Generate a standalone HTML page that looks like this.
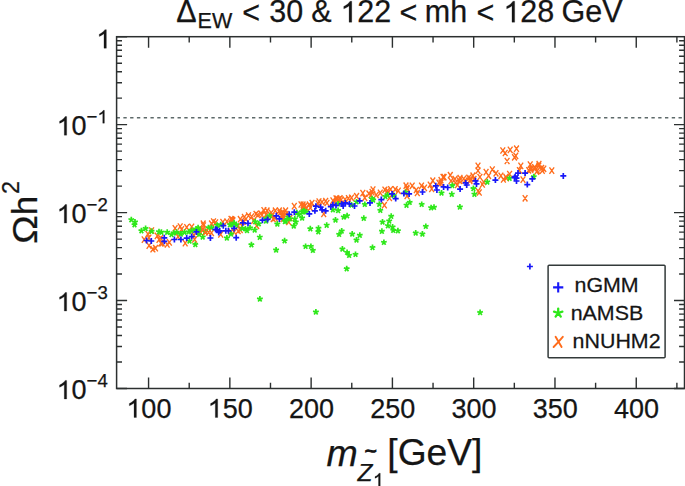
<!DOCTYPE html>
<html><head><meta charset="utf-8"><style>
html,body{margin:0;padding:0;background:#fff;}
body{width:685px;height:486px;overflow:hidden;position:relative;font-family:"Liberation Sans",sans-serif;}
svg{position:absolute;left:0;top:0;}
text{font-family:"Liberation Sans",sans-serif;fill:#151515;stroke:#151515;stroke-width:0.25px;}
</style></head><body>
<svg width="685" height="486" viewBox="0 0 685 486">
<line x1="116.6" y1="117.69" x2="684.5" y2="117.69" stroke="#5e6a6a" stroke-width="1.4" stroke-dasharray="3.35 3.42"/>
<path d="M145.55 230.80L150.25 237.20M150.25 230.80L145.55 237.20M141.85 236.40L146.55 242.80M146.55 236.40L141.85 242.80M146.55 234.60L151.25 241.00M151.25 234.60L146.55 241.00M146.65 242.40L151.35 248.80M151.35 242.40L146.65 248.80M150.55 246.00L155.25 252.40M155.25 246.00L150.55 252.40M153.15 245.00L157.85 251.40M157.85 245.00L153.15 251.40M154.85 232.70L159.55 239.10M159.55 232.70L154.85 239.10M156.65 236.40L161.35 242.80M161.35 236.40L156.65 242.80M158.55 240.10L163.25 246.50M163.25 240.10L158.55 246.50M149.25 227.30L153.95 233.70M153.95 227.30L149.25 233.70M177.85 223.30L182.55 229.70M182.55 223.30L177.85 229.70M172.75 225.10L177.45 231.50M177.45 225.10L172.75 231.50M184.35 224.10L189.05 230.50M189.05 224.10L184.35 230.50M189.35 223.70L194.05 230.10M194.05 223.70L189.35 230.10M179.25 226.20L183.95 232.60M183.95 226.20L179.25 232.60M175.65 233.40L180.35 239.80M180.35 233.40L175.65 239.80M164.85 241.30L169.55 247.70M169.55 241.30L164.85 247.70M167.05 239.20L171.75 245.60M171.75 239.20L167.05 245.60M182.85 239.90L187.55 246.30M187.55 239.90L182.85 246.30M158.35 234.90L163.05 241.30M163.05 234.90L158.35 241.30M159.85 239.90L164.55 246.30M164.55 239.90L159.85 246.30M192.25 236.30L196.95 242.70M196.95 236.30L192.25 242.70M191.55 232.00L196.25 238.40M196.25 232.00L191.55 238.40M200.85 220.50L205.55 226.90M205.55 220.50L200.85 226.90M199.85 226.60L204.55 233.00M204.55 226.60L199.85 233.00M202.95 228.70L207.65 235.10M207.65 228.70L202.95 235.10M211.15 218.40L215.85 224.80M215.85 218.40L211.15 224.80M213.25 219.40L217.95 225.80M217.95 219.40L213.25 225.80M209.15 220.50L213.85 226.90M213.85 220.50L209.15 226.90M220.45 218.90L225.15 225.30M225.15 218.90L220.45 225.30M224.55 218.40L229.25 224.80M229.25 218.40L224.55 224.80M228.65 215.80L233.35 222.20M233.35 215.80L228.65 222.20M230.65 217.40L235.35 223.80M235.35 217.40L230.65 223.80M209.15 229.70L213.85 236.10M213.85 229.70L209.15 236.10M218.35 231.20L223.05 237.60M223.05 231.20L218.35 237.60M228.65 228.70L233.35 235.10M233.35 228.70L228.65 235.10M196.75 228.70L201.45 235.10M201.45 228.70L196.75 235.10M229.75 216.50L234.45 222.90M234.45 216.50L229.75 222.90M235.85 222.60L240.55 229.00M240.55 222.60L235.85 229.00M237.95 216.00L242.65 222.40M242.65 216.00L237.95 222.40M242.05 213.90L246.75 220.30M246.75 213.90L242.05 220.30M246.15 212.40L250.85 218.80M250.85 212.40L246.15 218.80M249.25 213.40L253.95 219.80M253.95 213.40L249.25 219.80M251.35 217.50L256.05 223.90M256.05 217.50L251.35 223.90M255.45 211.80L260.15 218.20M260.15 211.80L255.45 218.20M258.45 210.30L263.15 216.70M263.15 210.30L258.45 216.70M261.55 207.20L266.25 213.60M266.25 207.20L261.55 213.60M237.95 226.80L242.65 233.20M242.65 226.80L237.95 233.20M235.85 227.80L240.55 234.20M240.55 227.80L235.85 234.20M231.75 228.80L236.45 235.20M236.45 228.80L231.75 235.20M254.35 222.60L259.05 229.00M259.05 222.60L254.35 229.00M264.75 207.50L269.45 213.90M269.45 207.50L264.75 213.90M268.85 209.60L273.55 216.00M273.55 209.60L268.85 216.00M272.95 207.50L277.65 213.90M277.65 207.50L272.95 213.90M277.05 207.50L281.75 213.90M281.75 207.50L277.05 213.90M280.15 209.00L284.85 215.40M284.85 209.00L280.15 215.40M283.25 207.50L287.95 213.90M287.95 207.50L283.25 213.90M291.95 202.90L296.65 209.30M296.65 202.90L291.95 209.30M298.65 201.30L303.35 207.70M303.35 201.30L298.65 207.70M300.65 203.40L305.35 209.80M305.35 203.40L300.65 209.80M270.85 215.70L275.55 222.10M275.55 215.70L270.85 222.10M279.15 212.60L283.85 219.00M283.85 212.60L279.15 219.00M286.35 218.80L291.05 225.20M291.05 218.80L286.35 225.20M263.65 211.60L268.35 218.00M268.35 211.60L263.65 218.00M300.75 201.50L305.45 207.90M305.45 201.50L300.75 207.90M306.95 201.50L311.65 207.90M311.65 201.50L306.95 207.90M307.95 204.60L312.65 211.00M312.65 204.60L307.95 211.00M316.65 198.40L321.35 204.80M321.35 198.40L316.65 204.80M323.35 197.90L328.05 204.30M328.05 197.90L323.35 204.30M321.35 210.70L326.05 217.10M326.05 210.70L321.35 217.10M330.55 197.40L335.25 203.80M335.25 197.40L330.55 203.80M333.65 195.30L338.35 201.70M338.35 195.30L333.65 201.70M336.25 196.30L340.95 202.70M340.95 196.30L336.25 202.70M303.85 204.60L308.55 211.00M308.55 204.60L303.85 211.00M334.75 195.60L339.45 202.00M339.45 195.60L334.75 202.00M337.75 195.10L342.45 201.50M342.45 195.10L337.75 201.50M346.05 195.10L350.75 201.50M350.75 195.10L346.05 201.50M349.15 194.60L353.85 201.00M353.85 194.60L349.15 201.00M354.25 193.00L358.95 199.40M358.95 193.00L354.25 199.40M360.45 189.90L365.15 196.30M365.15 189.90L360.45 196.30M362.45 194.60L367.15 201.00M367.15 194.60L362.45 201.00M366.55 190.50L371.25 196.90M371.25 190.50L366.55 196.90M370.65 186.30L375.35 192.70M375.35 186.30L370.65 192.70M369.65 188.90L374.35 195.30M374.35 188.90L369.65 195.30M373.85 191.80L378.55 198.20M378.55 191.80L373.85 198.20M377.95 189.70L382.65 196.10M382.65 189.70L377.95 196.10M382.55 186.60L387.25 193.00M387.25 186.60L382.55 193.00M385.15 187.60L389.85 194.00M389.85 187.60L385.15 194.00M388.25 186.10L392.95 192.50M392.95 186.10L388.25 192.50M392.85 186.10L397.55 192.50M397.55 186.10L392.85 192.50M395.95 187.60L400.65 194.00M400.65 187.60L395.95 194.00M382.05 202.00L386.75 208.40M386.75 202.00L382.05 208.40M387.15 194.80L391.85 201.20M391.85 194.80L387.15 201.20M403.65 182.50L408.35 188.90M408.35 182.50L403.65 188.90M404.65 184.60L409.35 191.00M409.35 184.60L404.65 191.00M404.65 192.80L409.35 199.20M409.35 192.80L404.65 199.20M368.65 191.80L373.35 198.20M373.35 191.80L368.65 198.20M409.85 182.60L414.55 189.00M414.55 182.60L409.85 189.00M404.75 185.70L409.45 192.10M409.45 185.70L404.75 192.10M413.95 186.80L418.65 193.20M418.65 186.80L413.95 193.20M414.95 189.80L419.65 196.20M419.65 189.80L414.95 196.20M419.15 182.60L423.85 189.00M423.85 182.60L419.15 189.00M422.15 184.70L426.85 191.10M426.85 184.70L422.15 191.10M427.85 181.60L432.55 188.00M432.55 181.60L427.85 188.00M430.45 177.50L435.15 183.90M435.15 177.50L430.45 183.90M429.35 185.70L434.05 192.10M434.05 185.70L429.35 192.10M436.55 179.60L441.25 186.00M441.25 179.60L436.55 186.00M440.65 173.90L445.35 180.30M445.35 173.90L440.65 180.30M438.65 177.00L443.35 183.40M443.35 177.00L438.65 183.40M441.75 174.00L446.45 180.40M446.45 174.00L441.75 180.40M447.95 172.00L452.65 178.40M452.65 172.00L447.95 178.40M453.05 179.70L457.75 186.10M457.75 179.70L453.05 186.10M455.15 181.80L459.85 188.20M459.85 181.80L455.15 188.20M457.15 177.60L461.85 184.00M461.85 177.60L457.15 184.00M461.35 175.60L466.05 182.00M466.05 175.60L461.35 182.00M466.45 174.60L471.15 181.00M471.15 174.60L466.45 181.00M468.45 175.60L473.15 182.00M473.15 175.60L468.45 182.00M470.55 172.50L475.25 178.90M475.25 172.50L470.55 178.90M475.65 162.70L480.35 169.10M480.35 162.70L475.65 169.10M475.65 167.40L480.35 173.80M480.35 167.40L475.65 173.80M475.65 187.90L480.35 194.30M480.35 187.90L475.65 194.30M438.65 179.70L443.35 186.10M443.35 179.70L438.65 186.10M477.55 173.80L482.25 180.20M482.25 173.80L477.55 180.20M481.25 178.80L485.95 185.20M485.95 178.80L481.25 185.20M483.75 168.90L488.45 175.30M488.45 168.90L483.75 175.30M486.25 172.60L490.95 179.00M490.95 172.60L486.25 179.00M489.95 166.40L494.65 172.80M494.65 166.40L489.95 172.80M493.65 170.10L498.35 176.50M498.35 170.10L493.65 176.50M498.55 172.60L503.25 179.00M503.25 172.60L498.55 179.00M501.05 176.30L505.75 182.70M505.75 176.30L501.05 182.70M503.55 173.80L508.25 180.20M508.25 173.80L503.55 180.20M507.25 170.80L511.95 177.20M511.95 170.80L507.25 177.20M476.95 189.30L481.65 195.70M481.65 189.30L476.95 195.70M500.45 147.30L505.15 153.70M505.15 147.30L500.45 153.70M502.85 149.80L507.55 156.20M507.55 149.80L502.85 156.20M507.85 146.70L512.55 153.10M512.55 146.70L507.85 153.10M504.75 157.80L509.45 164.20M509.45 157.80L504.75 164.20M512.15 154.10L516.85 160.50M516.85 154.10L512.15 160.50M480.05 181.20L484.75 187.60M484.75 181.20L480.05 187.60M514.15 145.50L518.85 151.90M518.85 145.50L514.15 151.90M513.45 152.70L518.15 159.10M518.15 152.70L513.45 159.10M518.45 162.70L523.15 169.10M523.15 162.70L518.45 169.10M517.05 167.10L521.75 173.50M521.75 167.10L517.05 173.50M527.85 161.30L532.55 167.70M532.55 161.30L527.85 167.70M529.25 164.90L533.95 171.30M533.95 164.90L529.25 171.30M532.15 164.20L536.85 170.60M536.85 164.20L532.15 170.60M536.45 162.70L541.15 169.10M541.15 162.70L536.45 169.10M539.35 164.90L544.05 171.30M544.05 164.90L539.35 171.30M541.45 165.60L546.15 172.00M546.15 165.60L541.45 172.00M526.35 167.10L531.05 173.50M531.05 167.10L526.35 173.50M534.35 168.50L539.05 174.90M539.05 168.50L534.35 174.90M520.65 176.40L525.35 182.80M525.35 176.40L520.65 182.80M522.75 195.10L527.45 201.50M527.45 195.10L522.75 201.50M504.05 175.00L508.75 181.40M508.75 175.00L504.05 181.40M536.65 160.80L541.35 167.20M541.35 160.80L536.65 167.20M539.95 167.40L544.65 173.80M544.65 167.40L539.95 173.80M535.05 167.40L539.75 173.80M539.75 167.40L535.05 173.80M549.45 167.40L554.15 173.80M554.15 167.40L549.45 173.80M528.45 166.50L533.15 172.90M533.15 166.50L528.45 172.90M532.65 165.30L537.35 171.70M537.35 165.30L532.65 171.70M240.65 218.80L245.35 225.20M245.35 218.80L240.65 225.20M243.65 215.80L248.35 222.20M248.35 215.80L243.65 222.20M253.65 210.80L258.35 217.20M258.35 210.80L253.65 217.20M259.65 211.80L264.35 218.20M264.35 211.80L259.65 218.20M269.65 212.80L274.35 219.20M274.35 212.80L269.65 219.20M272.65 214.80L277.35 221.20M277.35 214.80L272.65 221.20M277.65 209.80L282.35 216.20M282.35 209.80L277.65 216.20M280.65 212.80L285.35 219.20M285.35 212.80L280.65 219.20M283.65 210.80L288.35 217.20M288.35 210.80L283.65 217.20M280.65 215.80L285.35 222.20M285.35 215.80L280.65 222.20M287.65 214.80L292.35 221.20M292.35 214.80L287.65 221.20M239.65 222.80L244.35 229.20M244.35 222.80L239.65 229.20M452.65 175.80L457.35 182.20M457.35 175.80L452.65 182.20M457.65 174.80L462.35 181.20M462.35 174.80L457.65 181.20M462.65 177.30L467.35 183.70M467.35 177.30L462.65 183.70M467.65 177.80L472.35 184.20M472.35 177.80L467.65 184.20M471.65 175.80L476.35 182.20M476.35 175.80L471.65 182.20M448.65 177.80L453.35 184.20M453.35 177.80L448.65 184.20M302.65 202.80L307.35 209.20M307.35 202.80L302.65 209.20M309.65 199.80L314.35 206.20M314.35 199.80L309.65 206.20M315.65 200.30L320.35 206.70M320.35 200.30L315.65 206.70M319.65 198.80L324.35 205.20M324.35 198.80L319.65 205.20M324.65 199.80L329.35 206.20M329.35 199.80L324.65 206.20M338.65 196.80L343.35 203.20M343.35 196.80L338.65 203.20M342.65 196.30L347.35 202.70M347.35 196.30L342.65 202.70" stroke="#ff6c1c" stroke-width="1.35" fill="none"/>
<path d="M131.30 219.70L131.30 216.70M131.30 219.70L134.15 218.77M131.30 219.70L133.06 222.13M131.30 219.70L129.54 222.13M131.30 219.70L128.45 218.77M135.00 222.00L135.00 219.00M135.00 222.00L137.85 221.07M135.00 222.00L136.76 224.43M135.00 222.00L133.24 224.43M135.00 222.00L132.15 221.07M134.50 224.80L134.50 221.80M134.50 224.80L137.35 223.87M134.50 224.80L136.26 227.23M134.50 224.80L132.74 227.23M134.50 224.80L131.65 223.87M141.40 230.80L141.40 227.80M141.40 230.80L144.25 229.87M141.40 230.80L143.16 233.23M141.40 230.80L139.64 233.23M141.40 230.80L138.55 229.87M145.60 228.50L145.60 225.50M145.60 228.50L148.45 227.57M145.60 228.50L147.36 230.93M145.60 228.50L143.84 230.93M145.60 228.50L142.75 227.57M151.60 231.30L151.60 228.30M151.60 231.30L154.45 230.37M151.60 231.30L153.36 233.73M151.60 231.30L149.84 233.73M151.60 231.30L148.75 230.37M159.00 231.80L159.00 228.80M159.00 231.80L161.85 230.87M159.00 231.80L160.76 234.23M159.00 231.80L157.24 234.23M159.00 231.80L156.15 230.87M161.40 232.30L161.40 229.30M161.40 232.30L164.25 231.37M161.40 232.30L163.16 234.73M161.40 232.30L159.64 234.73M161.40 232.30L158.55 231.37M167.20 232.30L167.20 229.30M167.20 232.30L170.05 231.37M167.20 232.30L168.96 234.73M167.20 232.30L165.44 234.73M167.20 232.30L164.35 231.37M173.70 233.00L173.70 230.00M173.70 233.00L176.55 232.07M173.70 233.00L175.46 235.43M173.70 233.00L171.94 235.43M173.70 233.00L170.85 232.07M176.60 232.30L176.60 229.30M176.60 232.30L179.45 231.37M176.60 232.30L178.36 234.73M176.60 232.30L174.84 234.73M176.60 232.30L173.75 231.37M180.90 234.10L180.90 231.10M180.90 234.10L183.75 233.17M180.90 234.10L182.66 236.53M180.90 234.10L179.14 236.53M180.90 234.10L178.05 233.17M184.50 232.30L184.50 229.30M184.50 232.30L187.35 231.37M184.50 232.30L186.26 234.73M184.50 232.30L182.74 234.73M184.50 232.30L181.65 231.37M188.80 231.90L188.80 228.90M188.80 231.90L191.65 230.97M188.80 231.90L190.56 234.33M188.80 231.90L187.04 234.33M188.80 231.90L185.95 230.97M191.70 230.50L191.70 227.50M191.70 230.50L194.55 229.57M191.70 230.50L193.46 232.93M191.70 230.50L189.94 232.93M191.70 230.50L188.85 229.57M196.00 229.10L196.00 226.10M196.00 229.10L198.85 228.17M196.00 229.10L197.76 231.53M196.00 229.10L194.24 231.53M196.00 229.10L193.15 228.17M198.90 229.40L198.90 226.40M198.90 229.40L201.75 228.47M198.90 229.40L200.66 231.83M198.90 229.40L197.14 231.83M198.90 229.40L196.05 228.47M189.50 241.00L189.50 238.00M189.50 241.00L192.35 240.07M189.50 241.00L191.26 243.43M189.50 241.00L187.74 243.43M189.50 241.00L186.65 240.07M195.30 244.50L195.30 241.50M195.30 244.50L198.15 243.57M195.30 244.50L197.06 246.93M195.30 244.50L193.54 246.93M195.30 244.50L192.45 243.57M171.50 234.50L171.50 231.50M171.50 234.50L174.35 233.57M171.50 234.50L173.26 236.93M171.50 234.50L169.74 236.93M171.50 234.50L168.65 233.57M198.10 227.80L198.10 224.80M198.10 227.80L200.95 226.87M198.10 227.80L199.86 230.23M198.10 227.80L196.34 230.23M198.10 227.80L195.25 226.87M199.10 234.40L199.10 231.40M199.10 234.40L201.95 233.47M199.10 234.40L200.86 236.83M199.10 234.40L197.34 236.83M199.10 234.40L196.25 233.47M202.70 237.00L202.70 234.00M202.70 237.00L205.55 236.07M202.70 237.00L204.46 239.43M202.70 237.00L200.94 239.43M202.70 237.00L199.85 236.07M208.40 227.80L208.40 224.80M208.40 227.80L211.25 226.87M208.40 227.80L210.16 230.23M208.40 227.80L206.64 230.23M208.40 227.80L205.55 226.87M211.50 227.80L211.50 224.80M211.50 227.80L214.35 226.87M211.50 227.80L213.26 230.23M211.50 227.80L209.74 230.23M211.50 227.80L208.65 226.87M217.10 225.20L217.10 222.20M217.10 225.20L219.95 224.27M217.10 225.20L218.86 227.63M217.10 225.20L215.34 227.63M217.10 225.20L214.25 224.27M220.70 224.70L220.70 221.70M220.70 224.70L223.55 223.77M220.70 224.70L222.46 227.13M220.70 224.70L218.94 227.13M220.70 224.70L217.85 223.77M226.90 238.00L226.90 235.00M226.90 238.00L229.75 237.07M226.90 238.00L228.66 240.43M226.90 238.00L225.14 240.43M226.90 238.00L224.05 237.07M230.00 224.70L230.00 221.70M230.00 224.70L232.85 223.77M230.00 224.70L231.76 227.13M230.00 224.70L228.24 227.13M230.00 224.70L227.15 223.77M234.10 223.10L234.10 220.10M234.10 223.10L236.95 222.17M234.10 223.10L235.86 225.53M234.10 223.10L232.34 225.53M234.10 223.10L231.25 222.17M205.30 231.90L205.30 228.90M205.30 231.90L208.15 230.97M205.30 231.90L207.06 234.33M205.30 231.90L203.54 234.33M205.30 231.90L202.45 230.97M232.10 224.80L232.10 221.80M232.10 224.80L234.95 223.87M232.10 224.80L233.86 227.23M232.10 224.80L230.34 227.23M232.10 224.80L229.25 223.87M236.20 224.80L236.20 221.80M236.20 224.80L239.05 223.87M236.20 224.80L237.96 227.23M236.20 224.80L234.44 227.23M236.20 224.80L233.35 223.87M245.40 228.90L245.40 225.90M245.40 228.90L248.25 227.97M245.40 228.90L247.16 231.33M245.40 228.90L243.64 231.33M245.40 228.90L242.55 227.97M247.00 230.50L247.00 227.50M247.00 230.50L249.85 229.57M247.00 230.50L248.76 232.93M247.00 230.50L245.24 232.93M247.00 230.50L244.15 229.57M250.00 227.90L250.00 224.90M250.00 227.90L252.85 226.97M250.00 227.90L251.76 230.33M250.00 227.90L248.24 230.33M250.00 227.90L247.15 226.97M254.70 230.00L254.70 227.00M254.70 230.00L257.55 229.07M254.70 230.00L256.46 232.43M254.70 230.00L252.94 232.43M254.70 230.00L251.85 229.07M255.20 221.70L255.20 218.70M255.20 221.70L258.05 220.77M255.20 221.70L256.96 224.13M255.20 221.70L253.44 224.13M255.20 221.70L252.35 220.77M258.80 223.80L258.80 220.80M258.80 223.80L261.65 222.87M258.80 223.80L260.56 226.23M258.80 223.80L257.04 226.23M258.80 223.80L255.95 222.87M259.80 237.20L259.80 234.20M259.80 237.20L262.65 236.27M259.80 237.20L261.56 239.63M259.80 237.20L258.04 239.63M259.80 237.20L256.95 236.27M266.00 218.70L266.00 215.70M266.00 218.70L268.85 217.77M266.00 218.70L267.76 221.13M266.00 218.70L264.24 221.13M266.00 218.70L263.15 217.77M242.30 228.40L242.30 225.40M242.30 228.40L245.15 227.47M242.30 228.40L244.06 230.83M242.30 228.40L240.54 230.83M242.30 228.40L239.45 227.47M231.00 234.00L231.00 231.00M231.00 234.00L233.85 233.07M231.00 234.00L232.76 236.43M231.00 234.00L229.24 236.43M231.00 234.00L228.15 233.07M266.00 221.00L266.00 218.00M266.00 221.00L268.85 220.07M266.00 221.00L267.76 223.43M266.00 221.00L264.24 223.43M266.00 221.00L263.15 220.07M269.60 215.80L269.60 212.80M269.60 215.80L272.45 214.87M269.60 215.80L271.36 218.23M269.60 215.80L267.84 218.23M269.60 215.80L266.75 214.87M277.30 224.10L277.30 221.10M277.30 224.10L280.15 223.17M277.30 224.10L279.06 226.53M277.30 224.10L275.54 226.53M277.30 224.10L274.45 223.17M285.60 221.00L285.60 218.00M285.60 221.00L288.45 220.07M285.60 221.00L287.36 223.43M285.60 221.00L283.84 223.43M285.60 221.00L282.75 220.07M289.70 218.90L289.70 215.90M289.70 218.90L292.55 217.97M289.70 218.90L291.46 221.33M289.70 218.90L287.94 221.33M289.70 218.90L286.85 217.97M294.80 218.90L294.80 215.90M294.80 218.90L297.65 217.97M294.80 218.90L296.56 221.33M294.80 218.90L293.04 221.33M294.80 218.90L291.95 217.97M295.80 222.00L295.80 219.00M295.80 222.00L298.65 221.07M295.80 222.00L297.56 224.43M295.80 222.00L294.04 224.43M295.80 222.00L292.95 221.07M293.80 226.10L293.80 223.10M293.80 226.10L296.65 225.17M293.80 226.10L295.56 228.53M293.80 226.10L292.04 228.53M293.80 226.10L290.95 225.17M298.90 214.80L298.90 211.80M298.90 214.80L301.75 213.87M298.90 214.80L300.66 217.23M298.90 214.80L297.14 217.23M298.90 214.80L296.05 213.87M302.00 211.70L302.00 208.70M302.00 211.70L304.85 210.77M302.00 211.70L303.76 214.13M302.00 211.70L300.24 214.13M302.00 211.70L299.15 210.77M304.00 210.70L304.00 207.70M304.00 210.70L306.85 209.77M304.00 210.70L305.76 213.13M304.00 210.70L302.24 213.13M304.00 210.70L301.15 209.77M296.90 212.80L296.90 209.80M296.90 212.80L299.75 211.87M296.90 212.80L298.66 215.23M296.90 212.80L295.14 215.23M296.90 212.80L294.05 211.87M303.10 211.90L303.10 208.90M303.10 211.90L305.95 210.97M303.10 211.90L304.86 214.33M303.10 211.90L301.34 214.33M303.10 211.90L300.25 210.97M302.10 218.00L302.10 215.00M302.10 218.00L304.95 217.07M302.10 218.00L303.86 220.43M302.10 218.00L300.34 220.43M302.10 218.00L299.25 217.07M306.20 211.90L306.20 208.90M306.20 211.90L309.05 210.97M306.20 211.90L307.96 214.33M306.20 211.90L304.44 214.33M306.20 211.90L303.35 210.97M335.50 220.10L335.50 217.10M335.50 220.10L338.35 219.17M335.50 220.10L337.26 222.53M335.50 220.10L333.74 222.53M335.50 220.10L332.65 219.17M326.70 225.20L326.70 222.20M326.70 225.20L329.55 224.27M326.70 225.20L328.46 227.63M326.70 225.20L324.94 227.63M326.70 225.20L323.85 224.27M318.50 228.30L318.50 225.30M318.50 228.30L321.35 227.37M318.50 228.30L320.26 230.73M318.50 228.30L316.74 230.73M318.50 228.30L315.65 227.37M310.30 228.80L310.30 225.80M310.30 228.80L313.15 227.87M310.30 228.80L312.06 231.23M310.30 228.80L308.54 231.23M310.30 228.80L307.45 227.87M332.90 209.80L332.90 206.80M332.90 209.80L335.75 208.87M332.90 209.80L334.66 212.23M332.90 209.80L331.14 212.23M332.90 209.80L330.05 208.87M251.40 244.80L251.40 241.80M251.40 244.80L254.25 243.87M251.40 244.80L253.16 247.23M251.40 244.80L249.64 247.23M251.40 244.80L248.55 243.87M276.10 250.10L276.10 247.10M276.10 250.10L278.95 249.17M276.10 250.10L277.86 252.53M276.10 250.10L274.34 252.53M276.10 250.10L273.25 249.17M284.60 240.80L284.60 237.80M284.60 240.80L287.45 239.87M284.60 240.80L286.36 243.23M284.60 240.80L282.84 243.23M284.60 240.80L281.75 239.87M305.60 246.40L305.60 243.40M305.60 246.40L308.45 245.47M305.60 246.40L307.36 248.83M305.60 246.40L303.84 248.83M305.60 246.40L302.75 245.47M310.90 246.40L310.90 243.40M310.90 246.40L313.75 245.47M310.90 246.40L312.66 248.83M310.90 246.40L309.14 248.83M310.90 246.40L308.05 245.47M312.90 250.40L312.90 247.40M312.90 250.40L315.75 249.47M312.90 250.40L314.66 252.83M312.90 250.40L311.14 252.83M312.90 250.40L310.05 249.47M318.30 231.70L318.30 228.70M318.30 231.70L321.15 230.77M318.30 231.70L320.06 234.13M318.30 231.70L316.54 234.13M318.30 231.70L315.45 230.77M343.80 217.00L343.80 214.00M343.80 217.00L346.65 216.07M343.80 217.00L345.56 219.43M343.80 217.00L342.04 219.43M343.80 217.00L340.95 216.07M347.10 215.70L347.10 212.70M347.10 215.70L349.95 214.77M347.10 215.70L348.86 218.13M347.10 215.70L345.34 218.13M347.10 215.70L344.25 214.77M339.10 234.40L339.10 231.40M339.10 234.40L341.95 233.47M339.10 234.40L340.86 236.83M339.10 234.40L337.34 236.83M339.10 234.40L336.25 233.47M341.70 231.00L341.70 228.00M341.70 231.00L344.55 230.07M341.70 231.00L343.46 233.43M341.70 231.00L339.94 233.43M341.70 231.00L338.85 230.07M352.20 234.00L352.20 231.00M352.20 234.00L355.05 233.07M352.20 234.00L353.96 236.43M352.20 234.00L350.44 236.43M352.20 234.00L349.35 233.07M359.80 235.30L359.80 232.30M359.80 235.30L362.65 234.37M359.80 235.30L361.56 237.73M359.80 235.30L358.04 237.73M359.80 235.30L356.95 234.37M356.50 240.10L356.50 237.10M356.50 240.10L359.35 239.17M356.50 240.10L358.26 242.53M356.50 240.10L354.74 242.53M356.50 240.10L353.65 239.17M342.40 249.10L342.40 246.10M342.40 249.10L345.25 248.17M342.40 249.10L344.16 251.53M342.40 249.10L340.64 251.53M342.40 249.10L339.55 248.17M347.10 252.40L347.10 249.40M347.10 252.40L349.95 251.47M347.10 252.40L348.86 254.83M347.10 252.40L345.34 254.83M347.10 252.40L344.25 251.47M349.10 255.40L349.10 252.40M349.10 255.40L351.95 254.47M349.10 255.40L350.86 257.83M349.10 255.40L347.34 257.83M349.10 255.40L346.25 254.47M355.50 254.40L355.50 251.40M355.50 254.40L358.35 253.47M355.50 254.40L357.26 256.83M355.50 254.40L353.74 256.83M355.50 254.40L352.65 253.47M346.70 268.80L346.70 265.80M346.70 268.80L349.55 267.87M346.70 268.80L348.46 271.23M346.70 268.80L344.94 271.23M346.70 268.80L343.85 267.87M372.50 247.50L372.50 244.50M372.50 247.50L375.35 246.57M372.50 247.50L374.26 249.93M372.50 247.50L370.74 249.93M372.50 247.50L369.65 246.57M381.90 231.30L381.90 228.30M381.90 231.30L384.75 230.37M381.90 231.30L383.66 233.73M381.90 231.30L380.14 233.73M381.90 231.30L379.05 230.37M383.90 242.40L383.90 239.40M383.90 242.40L386.75 241.47M383.90 242.40L385.66 244.83M383.90 242.40L382.14 244.83M383.90 242.40L381.05 241.47M382.50 222.00L382.50 219.00M382.50 222.00L385.35 221.07M382.50 222.00L384.26 224.43M382.50 222.00L380.74 224.43M382.50 222.00L379.65 221.07M389.20 221.00L389.20 218.00M389.20 221.00L392.05 220.07M389.20 221.00L390.96 223.43M389.20 221.00L387.44 223.43M389.20 221.00L386.35 220.07M391.20 216.30L391.20 213.30M391.20 216.30L394.05 215.37M391.20 216.30L392.96 218.73M391.20 216.30L389.44 218.73M391.20 216.30L388.35 215.37M387.90 225.70L387.90 222.70M387.90 225.70L390.75 224.77M387.90 225.70L389.66 228.13M387.90 225.70L386.14 228.13M387.90 225.70L385.05 224.77M392.60 227.00L392.60 224.00M392.60 227.00L395.45 226.07M392.60 227.00L394.36 229.43M392.60 227.00L390.84 229.43M392.60 227.00L389.75 226.07M393.20 230.40L393.20 227.40M393.20 230.40L396.05 229.47M393.20 230.40L394.96 232.83M393.20 230.40L391.44 232.83M393.20 230.40L390.35 229.47M397.90 230.80L397.90 227.80M397.90 230.80L400.75 229.87M397.90 230.80L399.66 233.23M397.90 230.80L396.14 233.23M397.90 230.80L395.05 229.87M338.10 210.60L338.10 207.60M338.10 210.60L340.95 209.67M338.10 210.60L339.86 213.03M338.10 210.60L336.34 213.03M338.10 210.60L335.25 209.67M363.80 218.30L363.80 215.30M363.80 218.30L366.65 217.37M363.80 218.30L365.56 220.73M363.80 218.30L362.04 220.73M363.80 218.30L360.95 217.37M351.50 205.00L351.50 202.00M351.50 205.00L354.35 204.07M351.50 205.00L353.26 207.43M351.50 205.00L349.74 207.43M351.50 205.00L348.65 204.07M356.60 201.90L356.60 198.90M356.60 201.90L359.45 200.97M356.60 201.90L358.36 204.33M356.60 201.90L354.84 204.33M356.60 201.90L353.75 200.97M364.80 204.40L364.80 201.40M364.80 204.40L367.65 203.47M364.80 204.40L366.56 206.83M364.80 204.40L363.04 206.83M364.80 204.40L361.95 203.47M372.00 198.80L372.00 195.80M372.00 198.80L374.85 197.87M372.00 198.80L373.76 201.23M372.00 198.80L370.24 201.23M372.00 198.80L369.15 197.87M338.10 203.90L338.10 200.90M338.10 203.90L340.95 202.97M338.10 203.90L339.86 206.33M338.10 203.90L336.34 206.33M338.10 203.90L335.25 202.97M373.10 200.10L373.10 197.10M373.10 200.10L375.95 199.17M373.10 200.10L374.86 202.53M373.10 200.10L371.34 202.53M373.10 200.10L370.25 199.17M379.30 204.20L379.30 201.20M379.30 204.20L382.15 203.27M379.30 204.20L381.06 206.63M379.30 204.20L377.54 206.63M379.30 204.20L376.45 203.27M385.40 196.50L385.40 193.50M385.40 196.50L388.25 195.57M385.40 196.50L387.16 198.93M385.40 196.50L383.64 198.93M385.40 196.50L382.55 195.57M387.50 195.00L387.50 192.00M387.50 195.00L390.35 194.07M387.50 195.00L389.26 197.43M387.50 195.00L385.74 197.43M387.50 195.00L384.65 194.07M393.70 195.50L393.70 192.50M393.70 195.50L396.55 194.57M393.70 195.50L395.46 197.93M393.70 195.50L391.94 197.93M393.70 195.50L390.85 194.57M406.50 205.20L406.50 202.20M406.50 205.20L409.35 204.27M406.50 205.20L408.26 207.63M406.50 205.20L404.74 207.63M406.50 205.20L403.65 204.27M409.70 202.40L409.70 199.40M409.70 202.40L412.55 201.47M409.70 202.40L411.46 204.83M409.70 202.40L407.94 204.83M409.70 202.40L406.85 201.47M405.50 192.40L405.50 189.40M405.50 192.40L408.35 191.47M405.50 192.40L407.26 194.83M405.50 192.40L403.74 194.83M405.50 192.40L402.65 191.47M380.30 210.40L380.30 207.40M380.30 210.40L383.15 209.47M380.30 210.40L382.06 212.83M380.30 210.40L378.54 212.83M380.30 210.40L377.45 209.47M421.70 204.40L421.70 201.40M421.70 204.40L424.55 203.47M421.70 204.40L423.46 206.83M421.70 204.40L419.94 206.83M421.70 204.40L418.85 203.47M431.10 207.70L431.10 204.70M431.10 207.70L433.95 206.77M431.10 207.70L432.86 210.13M431.10 207.70L429.34 210.13M431.10 207.70L428.25 206.77M434.00 207.30L434.00 204.30M434.00 207.30L436.85 206.37M434.00 207.30L435.76 209.73M434.00 207.30L432.24 209.73M434.00 207.30L431.15 206.37M459.90 207.00L459.90 204.00M459.90 207.00L462.75 206.07M459.90 207.00L461.66 209.43M459.90 207.00L458.14 209.43M459.90 207.00L457.05 206.07M425.80 226.40L425.80 223.40M425.80 226.40L428.65 225.47M425.80 226.40L427.56 228.83M425.80 226.40L424.04 228.83M425.80 226.40L422.95 225.47M415.70 233.10L415.70 230.10M415.70 233.10L418.55 232.17M415.70 233.10L417.46 235.53M415.70 233.10L413.94 235.53M415.70 233.10L412.85 232.17M422.40 234.00L422.40 231.00M422.40 234.00L425.25 233.07M422.40 234.00L424.16 236.43M422.40 234.00L420.64 236.43M422.40 234.00L419.55 233.07M441.50 193.00L441.50 190.00M441.50 193.00L444.35 192.07M441.50 193.00L443.26 195.43M441.50 193.00L439.74 195.43M441.50 193.00L438.65 192.07M451.80 194.20L451.80 191.20M451.80 194.20L454.65 193.27M451.80 194.20L453.56 196.63M451.80 194.20L450.04 196.63M451.80 194.20L448.95 193.27M452.30 185.50L452.30 182.50M452.30 185.50L455.15 184.57M452.30 185.50L454.06 187.93M452.30 185.50L450.54 187.93M452.30 185.50L449.45 184.57M473.40 188.60L473.40 185.60M473.40 188.60L476.25 187.67M473.40 188.60L475.16 191.03M473.40 188.60L471.64 191.03M473.40 188.60L470.55 187.67M474.40 194.20L474.40 191.20M474.40 194.20L477.25 193.27M474.40 194.20L476.16 196.63M474.40 194.20L472.64 196.63M474.40 194.20L471.55 193.27M487.30 182.00L487.30 179.00M487.30 182.00L490.15 181.07M487.30 182.00L489.06 184.43M487.30 182.00L485.54 184.43M487.30 182.00L484.45 181.07M509.60 178.30L509.60 175.30M509.60 178.30L512.45 177.37M509.60 178.30L511.36 180.73M509.60 178.30L507.84 180.73M509.60 178.30L506.75 177.37M533.80 176.70L533.80 173.70M533.80 176.70L536.65 175.77M533.80 176.70L535.56 179.13M533.80 176.70L532.04 179.13M533.80 176.70L530.95 175.77M259.90 299.10L259.90 296.10M259.90 299.10L262.75 298.17M259.90 299.10L261.66 301.53M259.90 299.10L258.14 301.53M259.90 299.10L257.05 298.17M315.90 312.10L315.90 309.10M315.90 312.10L318.75 311.17M315.90 312.10L317.66 314.53M315.90 312.10L314.14 314.53M315.90 312.10L313.05 311.17M480.10 312.50L480.10 309.50M480.10 312.50L482.95 311.57M480.10 312.50L481.86 314.93M480.10 312.50L478.34 314.93M480.10 312.50L477.25 311.57M288.20 217.40L288.20 214.40M288.20 217.40L291.05 216.47M288.20 217.40L289.96 219.83M288.20 217.40L286.44 219.83M288.20 217.40L285.35 216.47M284.90 221.50L284.90 218.50M284.90 221.50L287.75 220.57M284.90 221.50L286.66 223.93M284.90 221.50L283.14 223.93M284.90 221.50L282.05 220.57" stroke="#2ee81a" stroke-width="1.7" fill="none"/>
<path d="M200.85 226.30L205.55 232.70M205.55 226.30L200.85 232.70M206.25 229.10L210.95 235.50M210.95 229.10L206.25 235.50M201.15 222.30L205.85 228.70M205.85 222.30L201.15 228.70M203.15 228.80L207.85 235.20M207.85 228.80L203.15 235.20" stroke="#ff6c1c" stroke-width="1.35" fill="none"/>
<path d="M143.60 240.50h6.00M146.60 237.50v6.00M148.30 241.00h6.00M151.30 238.00v6.00M161.30 237.80h6.00M164.30 234.80v6.00M161.30 241.30h6.00M164.30 238.30v6.00M171.40 239.50h6.00M174.40 236.50v6.00M177.90 239.50h6.00M180.90 236.50v6.00M183.70 238.10h6.00M186.70 235.10v6.00M188.70 236.60h6.00M191.70 233.60v6.00M193.40 231.90h6.00M196.40 228.90v6.00M207.40 238.00h6.00M210.40 235.00v6.00M214.10 229.80h6.00M217.10 226.80v6.00M216.70 230.80h6.00M219.70 227.80v6.00M220.30 225.70h6.00M223.30 222.70v6.00M222.80 230.80h6.00M225.80 227.80v6.00M225.40 230.80h6.00M228.40 227.80v6.00M212.60 229.30h6.00M215.60 226.30v6.00M215.70 232.40h6.00M218.70 229.40v6.00M231.10 228.40h6.00M234.10 225.40v6.00M233.20 237.70h6.00M236.20 234.70v6.00M239.90 222.80h6.00M242.90 219.80v6.00M245.00 223.30h6.00M248.00 220.30v6.00M259.40 220.20h6.00M262.40 217.20v6.00M264.60 219.40h6.00M267.60 216.40v6.00M273.30 215.80h6.00M276.30 212.80v6.00M276.40 218.90h6.00M279.40 215.90v6.00M286.20 214.30h6.00M289.20 211.30v6.00M291.30 212.20h6.00M294.30 209.20v6.00M306.30 213.90h6.00M309.30 210.90v6.00M311.90 210.80h6.00M314.90 207.80v6.00M312.90 206.20h6.00M315.90 203.20v6.00M317.60 207.20h6.00M320.60 204.20v6.00M319.10 209.80h6.00M322.10 206.80v6.00M322.70 210.80h6.00M325.70 207.80v6.00M327.80 206.70h6.00M330.80 203.70v6.00M329.90 204.70h6.00M332.90 201.70v6.00M338.70 203.90h6.00M341.70 200.90v6.00M340.20 206.00h6.00M343.20 203.00v6.00M342.30 202.90h6.00M345.30 199.90v6.00M346.40 203.90h6.00M349.40 200.90v6.00M351.50 206.00h6.00M354.50 203.00v6.00M356.70 200.80h6.00M359.70 197.80v6.00M367.00 202.90h6.00M370.00 199.90v6.00M333.00 205.50h6.00M336.00 202.50v6.00M378.30 199.60h6.00M381.30 196.60v6.00M389.10 193.90h6.00M392.10 190.90v6.00M392.70 198.60h6.00M395.70 195.60v6.00M400.90 193.40h6.00M403.90 190.40v6.00M406.10 193.90h6.00M409.10 190.90v6.00M419.50 192.00h6.00M422.50 189.00v6.00M432.80 185.80h6.00M435.80 182.80v6.00M433.90 190.00h6.00M436.90 187.00v6.00M440.60 186.90h6.00M443.60 183.90v6.00M444.70 187.50h6.00M447.70 184.50v6.00M457.10 189.10h6.00M460.10 186.10v6.00M462.70 182.90h6.00M465.70 179.90v6.00M463.70 185.00h6.00M466.70 182.00v6.00M472.50 180.80h6.00M475.50 177.80v6.00M473.50 183.90h6.00M476.50 180.90v6.00M492.40 180.10h6.00M495.40 177.10v6.00M511.50 177.70h6.00M514.50 174.70v6.00M513.50 178.20h6.00M516.50 175.20v6.00M512.10 176.70h6.00M515.10 173.70v6.00M515.00 173.10h6.00M518.00 170.10v6.00M513.50 181.00h6.00M516.50 178.00v6.00M522.10 173.10h6.00M525.10 170.10v6.00M529.30 178.90h6.00M532.30 175.90v6.00M524.30 184.60h6.00M527.30 181.60v6.00M560.30 175.90h6.00M563.30 172.90v6.00M526.90 266.50h6.00M529.90 263.50v6.00" stroke="#1818f8" stroke-width="1.7" fill="none"/>
<rect x="116.6" y="36.7" width="567.90" height="351.80" fill="none" stroke="#2c3030" stroke-width="1.5"/>
<path d="M148.57 388.5V377.50M148.57 36.7V47.70M189.21 388.5V382.80M189.21 36.7V42.40M229.85 388.5V377.50M229.85 36.7V47.70M270.49 388.5V382.80M270.49 36.7V42.40M311.13 388.5V377.50M311.13 36.7V47.70M351.77 388.5V382.80M351.77 36.7V42.40M392.41 388.5V377.50M392.41 36.7V47.70M433.05 388.5V382.80M433.05 36.7V42.40M473.69 388.5V377.50M473.69 36.7V47.70M514.33 388.5V382.80M514.33 36.7V42.40M554.97 388.5V377.50M554.97 36.7V47.70M595.61 388.5V382.80M595.61 36.7V42.40M636.25 388.5V377.50M636.25 36.7V47.70M676.89 388.5V382.80M676.89 36.7V42.40M116.6 124.65H127.10M684.5 124.65H674.00M116.6 98.17H122.00M684.5 98.17H679.10M116.6 82.69H122.00M684.5 82.69H679.10M116.6 71.70H122.00M684.5 71.70H679.10M116.6 63.18H122.00M684.5 63.18H679.10M116.6 56.21H122.00M684.5 56.21H679.10M116.6 50.32H122.00M684.5 50.32H679.10M116.6 45.22H122.00M684.5 45.22H679.10M116.6 40.72H122.00M684.5 40.72H679.10M116.6 212.60H127.10M684.5 212.60H674.00M116.6 186.12H122.00M684.5 186.12H679.10M116.6 170.64H122.00M684.5 170.64H679.10M116.6 159.65H122.00M684.5 159.65H679.10M116.6 151.13H122.00M684.5 151.13H679.10M116.6 144.16H122.00M684.5 144.16H679.10M116.6 138.27H122.00M684.5 138.27H679.10M116.6 133.17H122.00M684.5 133.17H679.10M116.6 128.67H122.00M684.5 128.67H679.10M116.6 300.55H127.10M684.5 300.55H674.00M116.6 274.07H122.00M684.5 274.07H679.10M116.6 258.59H122.00M684.5 258.59H679.10M116.6 247.60H122.00M684.5 247.60H679.10M116.6 239.08H122.00M684.5 239.08H679.10M116.6 232.11H122.00M684.5 232.11H679.10M116.6 226.22H122.00M684.5 226.22H679.10M116.6 221.12H122.00M684.5 221.12H679.10M116.6 216.62H122.00M684.5 216.62H679.10M116.6 388.50H127.10M684.5 388.50H674.00M116.6 362.02H122.00M684.5 362.02H679.10M116.6 346.54H122.00M684.5 346.54H679.10M116.6 335.55H122.00M684.5 335.55H679.10M116.6 327.03H122.00M684.5 327.03H679.10M116.6 320.06H122.00M684.5 320.06H679.10M116.6 314.17H122.00M684.5 314.17H679.10M116.6 309.07H122.00M684.5 309.07H679.10M116.6 304.57H122.00M684.5 304.57H679.10M116.6 36.900000000000006H127.1" stroke="#2c3030" stroke-width="1.4" fill="none"/>
<text transform="translate(126.35 417.50)" font-size="27"> 00</text><path transform="translate(126.35 417.50) translate(0.00 0) scale(0.01318 -0.01318)" d="M763 0L583 0L583 1100C540 1060 483 1022 413 983C343 944 280 915 225 895L225 1062C326 1107 414 1163 489 1227C564 1291 617 1354 648 1409L763 1409Z" fill="#151515" stroke="#151515" stroke-width="0.25" vector-effect="non-scaling-stroke"/>
<text transform="translate(207.63 417.50)" font-size="27"> 50</text><path transform="translate(207.63 417.50) translate(0.00 0) scale(0.01318 -0.01318)" d="M763 0L583 0L583 1100C540 1060 483 1022 413 983C343 944 280 915 225 895L225 1062C326 1107 414 1163 489 1227C564 1291 617 1354 648 1409L763 1409Z" fill="#151515" stroke="#151515" stroke-width="0.25" vector-effect="non-scaling-stroke"/>
<text transform="translate(288.91 417.50)" font-size="27">200</text>
<text transform="translate(370.19 417.50)" font-size="27">250</text>
<text transform="translate(451.47 417.50)" font-size="27">300</text>
<text transform="translate(532.75 417.50)" font-size="27">350</text>
<text transform="translate(614.03 417.50)" font-size="27">400</text>
<text transform="translate(96.30 48.20)" font-size="27"> </text><path transform="translate(96.30 48.20) translate(0.00 0) scale(0.01318 -0.01318)" d="M763 0L583 0L583 1100C540 1060 483 1022 413 983C343 944 280 915 225 895L225 1062C326 1107 414 1163 489 1227C564 1291 617 1354 648 1409L763 1409Z" fill="#151515" stroke="#151515" stroke-width="0.25" vector-effect="non-scaling-stroke"/>
<text transform="translate(56.60 135.15)" font-size="27"> 0</text><path transform="translate(56.60 135.15) translate(0.00 0) scale(0.01318 -0.01318)" d="M763 0L583 0L583 1100C540 1060 483 1022 413 983C343 944 280 915 225 895L225 1062C326 1107 414 1163 489 1227C564 1291 617 1354 648 1409L763 1409Z" fill="#151515" stroke="#151515" stroke-width="0.25" vector-effect="non-scaling-stroke"/>
<text transform="translate(86.60 123.15)" font-size="18.6">− </text><path transform="translate(86.60 123.15) translate(10.86 0) scale(0.00908 -0.00908)" d="M763 0L583 0L583 1100C540 1060 483 1022 413 983C343 944 280 915 225 895L225 1062C326 1107 414 1163 489 1227C564 1291 617 1354 648 1409L763 1409Z" fill="#151515" stroke="#151515" stroke-width="0.25" vector-effect="non-scaling-stroke"/>
<text transform="translate(56.60 223.10)" font-size="27"> 0</text><path transform="translate(56.60 223.10) translate(0.00 0) scale(0.01318 -0.01318)" d="M763 0L583 0L583 1100C540 1060 483 1022 413 983C343 944 280 915 225 895L225 1062C326 1107 414 1163 489 1227C564 1291 617 1354 648 1409L763 1409Z" fill="#151515" stroke="#151515" stroke-width="0.25" vector-effect="non-scaling-stroke"/>
<text transform="translate(86.60 211.10)" font-size="18.6">−2</text>
<text transform="translate(56.60 311.05)" font-size="27"> 0</text><path transform="translate(56.60 311.05) translate(0.00 0) scale(0.01318 -0.01318)" d="M763 0L583 0L583 1100C540 1060 483 1022 413 983C343 944 280 915 225 895L225 1062C326 1107 414 1163 489 1227C564 1291 617 1354 648 1409L763 1409Z" fill="#151515" stroke="#151515" stroke-width="0.25" vector-effect="non-scaling-stroke"/>
<text transform="translate(86.60 299.05)" font-size="18.6">−3</text>
<text transform="translate(56.60 399.00)" font-size="27"> 0</text><path transform="translate(56.60 399.00) translate(0.00 0) scale(0.01318 -0.01318)" d="M763 0L583 0L583 1100C540 1060 483 1022 413 983C343 944 280 915 225 895L225 1062C326 1107 414 1163 489 1227C564 1291 617 1354 648 1409L763 1409Z" fill="#151515" stroke="#151515" stroke-width="0.25" vector-effect="non-scaling-stroke"/>
<text transform="translate(86.60 387.00)" font-size="18.6">−4</text>
<text transform="translate(176.20 22.20)" font-size="30.5">Δ</text>
<text transform="translate(242.30 23.10)" font-size="30.5">&lt;</text>
<text transform="translate(269.30 22.20)" font-size="30.5">30</text>
<text transform="translate(311.30 22.20)" font-size="30.5">&amp;</text>
<text transform="translate(340.40 22.20)" font-size="30.5"> 22</text><path transform="translate(340.40 22.20) translate(0.00 0) scale(0.01489 -0.01489)" d="M763 0L583 0L583 1100C540 1060 483 1022 413 983C343 944 280 915 225 895L225 1062C326 1107 414 1163 489 1227C564 1291 617 1354 648 1409L763 1409Z" fill="#151515" stroke="#151515" stroke-width="0.25" vector-effect="non-scaling-stroke"/>
<text transform="translate(399.40 23.10)" font-size="30.5">&lt;</text>
<text transform="translate(424.80 22.20)" font-size="30.5">mh</text>
<text transform="translate(476.50 23.10)" font-size="30.5">&lt;</text>
<text transform="translate(503.30 22.20)" font-size="30.5"> 28</text><path transform="translate(503.30 22.20) translate(0.00 0) scale(0.01489 -0.01489)" d="M763 0L583 0L583 1100C540 1060 483 1022 413 983C343 944 280 915 225 895L225 1062C326 1107 414 1163 489 1227C564 1291 617 1354 648 1409L763 1409Z" fill="#151515" stroke="#151515" stroke-width="0.25" vector-effect="non-scaling-stroke"/>
<text transform="translate(561.60 22.20)" font-size="30.5">GeV</text>
<text transform="translate(197.60 28.20)" font-size="21.5">EW</text>
<g transform="translate(37.2 0) rotate(-90)"><text transform="translate(-244 0) scale(1.1 1)" font-size="35">Ω</text><text x="-215.3" y="0" font-size="35">h</text><text x="-194.1" y="-18.5" font-size="23.3">2</text></g>
<text transform="translate(326.60 465.60)" font-size="37.5" font-style="italic">m</text>
<text transform="translate(357.50 480.60)" font-size="24.5" font-style="italic">Z</text>
<text transform="translate(372.80 487.00)" font-size="20"> </text><path transform="translate(372.80 487.00) translate(0.00 0) scale(0.00977 -0.00977)" d="M763 0L583 0L583 1100C540 1060 483 1022 413 983C343 944 280 915 225 895L225 1062C326 1107 414 1163 489 1227C564 1291 617 1354 648 1409L763 1409Z" fill="#151515" stroke="#151515" stroke-width="0.25" vector-effect="non-scaling-stroke"/>
<text transform="translate(364.80 458.30)" font-size="20.5" style="stroke-width:1.1px">~</text>
<text transform="translate(387.35 464.90)" font-size="37.2">[GeV]</text>
<rect x="548.1" y="265.2" width="117" height="92.6" rx="1" fill="#fff" stroke="#333a3a" stroke-width="1.5"/>
<text transform="translate(574.50 292.00) scale(1.07 1.0)" font-size="20">nGMM</text>
<text transform="translate(570.70 319.50) scale(1.07 1.0)" font-size="20">nAMSB</text>
<text transform="translate(572.60 347.50) scale(1.07 1.0)" font-size="20">nNUHM2</text>
<path d="M553.10 287.40h10.20M558.20 282.30v10.20" stroke="#1818f8" stroke-width="2.1"/><path d="M558.20 313.00L558.20 308.60M558.20 313.00L562.38 311.64M558.20 313.00L560.79 316.56M558.20 313.00L555.61 316.56M558.20 313.00L554.02 311.64" stroke="#2ee81a" stroke-width="2.3" stroke-linecap="round"/><path d="M555.6 336.8L561.6 347M562.8 336.8Q558 342.5 553.6 347" stroke="#ff6c1c" stroke-width="1.9" stroke-linecap="round" fill="none"/>
</svg>
</body></html>
